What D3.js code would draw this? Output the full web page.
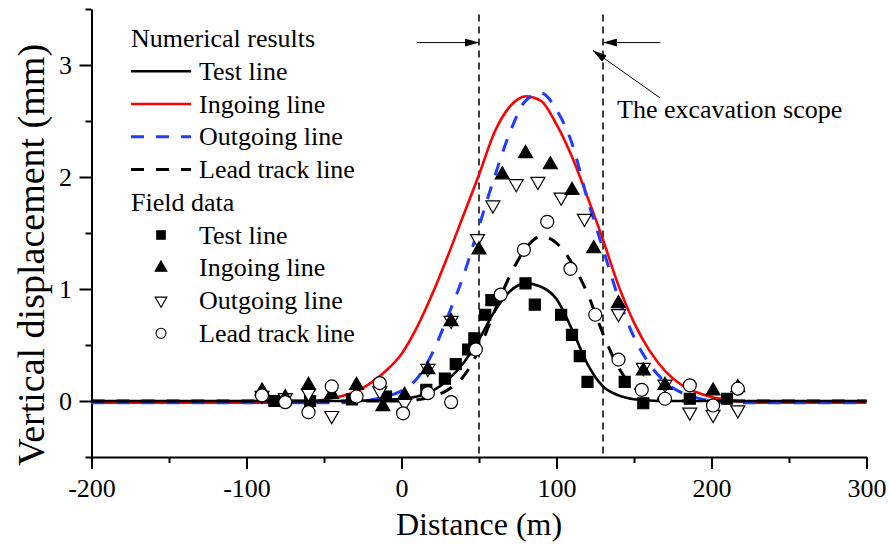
<!DOCTYPE html>
<html>
<head>
<meta charset="utf-8">
<script src="https://cdn.jsdelivr.net/npm/d3@7"></script>
<style>
  body { margin: 0; background: #fff; }
  svg { display: block; font-family: "Liberation Serif", "DejaVu Serif", serif; }
</style>
</head>
<body>
<svg id="chart" width="890" height="545"></svg>
<script>
// x grid shared by the numerical curves (m)
const gridX = [-200, -70, -60, -50, -40, -30, -20, -10, 0, 10, 20, 30, 40, 50, 60, 70, 80, 90,
  100, 110, 120, 130, 140, 150, 160, 170, 180, 190, 200, 210, 220, 230, 300];

// numerical results (mm), one value per gridX entry
const numTest = [0, 0, 0, 0, 0, 0, 0.005, 0.01, 0.02, 0.04, 0.09, 0.19, 0.34, 0.55, 0.8, 0.98, 1.05, 1.02,
  0.91, 0.64, 0.33, 0.13, 0.05, 0.015, 0.005, 0, 0, 0, 0, 0, 0, 0, 0];
const numIngoing = [-0.015, -0.015, -0.01, 0.01, 0.04, 0.08, 0.16, 0.27, 0.42, 0.66, 0.96, 1.3, 1.66, 2.02, 2.4, 2.63, 2.72, 2.68,
  2.47, 2.18, 1.82, 1.44, 1.03, 0.7, 0.45, 0.27, 0.15, 0.08, 0.035, 0.01, -0.005, -0.015, -0.015];
const numOutgoing = [-0.015, -0.015, -0.015, -0.015, -0.015, -0.01, 0.01, 0.04, 0.09, 0.2, 0.43, 0.76, 1.12, 1.56, 2.0, 2.4, 2.68, 2.75,
  2.6, 2.3, 1.8, 1.36, 0.92, 0.57, 0.33, 0.17, 0.08, 0.03, 0, -0.015, -0.015, -0.015, -0.015];
const numLead = [0, 0, 0, 0, 0, 0, 0, 0, 0, 0.01, 0.04, 0.1, 0.22, 0.46, 0.8, 1.12, 1.36, 1.47,
  1.41, 1.23, 0.96, 0.6, 0.3, 0.12, 0.04, 0.01, 0, 0, 0, 0, 0, 0, 0];

// field data: [distance (m), displacement (mm)]
const fieldTest = [[-82, 0], [-59, 0], [-32, 0.015], [-10, 0.04], [16, 0.1], [28, 0.2], [35, 0.33], [43, 0.46],
  [47, 0.56], [54, 0.77], [58, 0.9], [80, 1.05], [86, 0.86], [103, 0.77], [110, 0.59], [115, 0.4], [120, 0.17],
  [144, 0.17], [156, -0.02], [186, 0.02], [210, 0.02]];
const fieldIngoing = [[-90, 0.09], [-75, 0.03], [-60, 0.14], [-45, 0.06], [-29, 0.14], [-12, -0.05], [2, 0.05],
  [17, 0.28], [32, 0.71], [50, 1.35], [65, 2.02], [80, 2.21], [96, 2.11], [110, 1.88], [124, 1.36], [140, 0.87],
  [156, 0.27], [170, 0.14], [201, 0.09], [217, 0.12]];
const fieldOutgoing = [[-90, 0.05], [-75, 0.03], [-60, 0.07], [-45, -0.13], [-14, 0.09], [2, -0.02], [17, 0.29],
  [32, 0.72], [49, 1.45], [59, 1.75], [74, 1.94], [88, 1.96], [103, 1.82], [118, 1.63], [140, 0.78], [156, 0.3],
  [170, 0.15], [186, -0.1], [201, -0.12], [217, -0.08]];
const fieldLead = [[-90, 0.05], [-75, -0.01], [-60, -0.1], [-45, 0.13], [-29, 0.04], [-14, 0.16], [1, -0.11],
  [17, 0.07], [32, -0.01], [48, 0.46], [64, 0.95], [79, 1.35], [94, 1.6], [109, 1.18], [125, 0.77], [140, 0.37],
  [155, 0.1], [170, 0.02], [186, 0.14], [201, -0.04], [217, 0.11]];

const xMajor = [-200, -100, 0, 100, 200, 300];
const xMinor = [-150, -50, 50, 150, 250];
const yMajor = [0, 1, 2, 3];
const yMinor = [-0.5, 0.5, 1.5, 2.5, 3.5];
const scopeBounds = [50, 130];

const legendLines = ['Test line', 'Ingoing line', 'Outgoing line', 'Lead track line'];

const svg = d3.select('#chart');
const x = d3.scaleLinear().domain([-200, 300]).range([91.5, 866.5]);
const y = d3.scaleLinear().domain([-0.5, 3.5]).range([457, 9]);

const FS = 26;

// axes
const xAxisG = svg.append('g').attr('transform', 'translate(0,457)');
xAxisG.call(d3.axisBottom(x).tickValues(xMajor).tickSize(12).tickSizeOuter(0).tickPadding(9.5).tickFormat(d => String(d)));
xAxisG.append('g').call(d3.axisBottom(x).tickValues(xMinor).tickSize(6).tickSizeOuter(0).tickFormat(''))
  .select('.domain').remove();

const yAxisG = svg.append('g').attr('transform', 'translate(91.5,0)');
yAxisG.call(d3.axisLeft(y).tickValues(yMajor).tickSize(12).tickSizeOuter(0).tickPadding(7.5).tickFormat(d => String(d)));
yAxisG.append('g').call(d3.axisLeft(y).tickValues(yMinor).tickSize(6).tickSizeOuter(0).tickFormat(''))
  .select('.domain').remove();

svg.selectAll('.domain, .tick line').attr('stroke', '#000').attr('stroke-width', 2);
svg.selectAll('.tick text').attr('font-size', FS).attr('fill', '#000')
  .attr('font-family', '"Liberation Serif", serif');

// axis titles
svg.append('text').attr('x', x(50)).attr('y', 535).attr('text-anchor', 'middle')
  .attr('font-size', 32).text('Distance (m)');
svg.append('text').attr('transform', 'translate(44,255) rotate(-90)').attr('text-anchor', 'middle')
  .attr('font-size', 38).text('Vertical displacement (mm)');

// excavation scope lines
svg.selectAll('.scope').data(scopeBounds).enter().append('line')
  .attr('x1', d => x(d)).attr('x2', d => x(d))
  .attr('y1', y(3.45)).attr('y2', y(-0.5))
  .attr('stroke', '#000').attr('stroke-width', 1.5).attr('stroke-dasharray', '7,5');

// curves
const line = d3.line().x((d, i) => x(gridX[i])).y(d => y(d)).curve(d3.curveMonotoneX);
const curves = [
  { v: numIngoing, color: '#ff0000', w: 2.6, dash: null },
  { v: numOutgoing, color: '#1f3dff', w: 3, dash: '13,12' },
  { v: numLead, color: '#000', w: 3, dash: '13,12' },
  { v: numTest, color: '#000', w: 2.6, dash: null }
];
curves.forEach(c => {
  svg.append('path').attr('d', line(c.v)).attr('fill', 'none')
    .attr('stroke', c.color).attr('stroke-width', c.w)
    .attr('stroke-dasharray', c.dash);
});

// markers
const symSquare = d3.symbol().type(d3.symbolSquare).size(121);
const symTri = d3.symbol().type(d3.symbolTriangle).size(85);
const symCircle = d3.symbol().type(d3.symbolCircle).size(133);

function drawMarkers(data, sym, fill, rot) {
  svg.append('g').selectAll('path').data(data).enter().append('path')
    .attr('d', sym)
    .attr('transform', d => `translate(${x(d[0])},${y(d[1])})` + (rot ? ' rotate(180)' : ''))
    .attr('fill', fill).attr('stroke', '#000').attr('stroke-width', 1.2);
}
drawMarkers(fieldTest, symSquare, '#000', false);
drawMarkers(fieldOutgoing, symTri, '#fff', true);
drawMarkers(fieldIngoing, symTri, '#000', false);
drawMarkers(fieldLead, symCircle, '#fff', false);

// arrows
const defs = svg.append('defs');
defs.append('marker').attr('id', 'head').attr('viewBox', '0 0 14 8')
  .attr('refX', 14).attr('refY', 4).attr('markerWidth', 14).attr('markerHeight', 8)
  .attr('markerUnits', 'userSpaceOnUse').attr('orient', 'auto')
  .append('path').attr('d', 'M0,0L14,4L0,8Z').attr('fill', '#000');

const arrows = [
  [[10, 3.2], [50, 3.2]],
  [[167, 3.2], [130, 3.2]],
  [[166.5, 2.71], [123.5, 3.13]]
];
arrows.forEach(a => {
  svg.append('line').attr('x1', x(a[0][0])).attr('y1', y(a[0][1]))
    .attr('x2', x(a[1][0])).attr('y2', y(a[1][1]))
    .attr('stroke', '#000').attr('stroke-width', 1).attr('marker-end', 'url(#head)');
});
svg.append('text').attr('x', 617).attr('y', 118).attr('font-size', FS).text('The excavation scope');

// legend
const lg = svg.append('g');
const rowY = i => 38.5 + 32.75 * i;
lg.append('text').attr('x', 131).attr('y', rowY(0)).attr('dy', '0.33em').attr('font-size', FS).text('Numerical results');
const legendCurves = [curves[3], curves[0], curves[1], curves[2]];
legendCurves.forEach((c, i) => {
  const yy = rowY(i + 1);
  lg.append('line').attr('x1', 131).attr('x2', 191).attr('y1', yy).attr('y2', yy)
    .attr('stroke', c.color).attr('stroke-width', c.w).attr('stroke-dasharray', c.dash);
  lg.append('text').attr('x', 199).attr('y', yy).attr('dy', '0.33em').attr('font-size', FS).text(legendLines[i]);
});
lg.append('text').attr('x', 131).attr('y', rowY(5)).attr('dy', '0.33em').attr('font-size', FS).text('Field data');
const legendSyms = [
  { sym: d3.symbol().type(d3.symbolSquare).size(72), fill: '#000', rot: false },
  { sym: d3.symbol().type(d3.symbolTriangle).size(60), fill: '#000', rot: false },
  { sym: d3.symbol().type(d3.symbolTriangle).size(60), fill: '#fff', rot: true },
  { sym: d3.symbol().type(d3.symbolCircle).size(78), fill: '#fff', rot: false }
];
legendSyms.forEach((s, i) => {
  const yy = rowY(i + 6);
  lg.append('path').attr('d', s.sym)
    .attr('transform', `translate(161,${yy})` + (s.rot ? ' rotate(180)' : ''))
    .attr('fill', s.fill).attr('stroke', '#000').attr('stroke-width', 1.1);
  lg.append('text').attr('x', 199).attr('y', yy).attr('dy', '0.33em').attr('font-size', FS).text(legendLines[i]);
});
</script>
</body>
</html>
